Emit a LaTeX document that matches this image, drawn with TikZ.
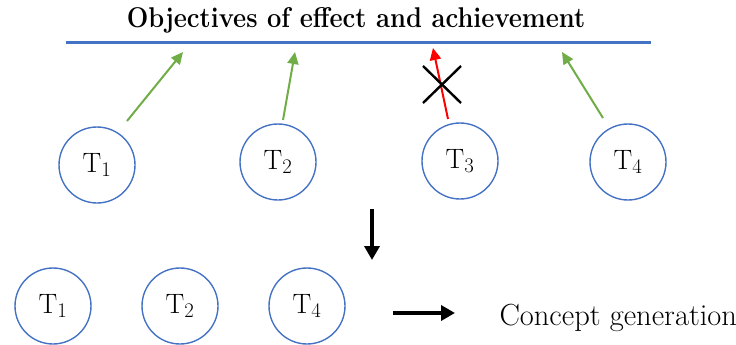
\documentclass[tikz,border=0pt]{standalone}
\usetikzlibrary{arrows.meta}
\definecolor{cblue}{HTML}{4472C4}
\definecolor{cgreen}{HTML}{70AD47}
\begin{document}
\begin{tikzpicture}[x=1pt,y=-1pt,
  tcirc/.style={circle,draw=cblue,line width=1.4pt,minimum size=76pt,inner sep=0pt,font=\fontsize{28}{32}\selectfont},
  garrow/.style={cgreen,line width=2pt,-{Triangle[length=12pt,width=11pt]}},
  rarrow/.style={red,line width=2pt,-{Triangle[length=12pt,width=11pt]}},
  barrow/.style={black,line width=4pt,-{Triangle[length=14pt,width=15pt]}},
  crossline/.style={black,line width=2.4pt}]
\useasboundingbox (0,0) rectangle (736,345);
\node[font=\fontsize{25.5}{30}\selectfont\bfseries,yscale=1.12] (title) at (356,20) {Objectives of effect and achievement};
\coordinate (lineL) at (66,43);
\coordinate (lineR) at (651,43);
\draw[cblue,line width=3pt] (lineL) -- (lineR);
% top circles
\node[tcirc] (a1) at (97,165) {T$_1$};
\node[tcirc] (a2) at (278,162) {T$_2$};
\node[tcirc] (a3) at (460,161) {T$_3$};
\node[tcirc] (a4) at (628,162) {T$_4$};
% arrows to objectives
\coordinate (s1) at (127,121); \coordinate (e1) at (183,52);
\coordinate (s2) at (283,120); \coordinate (e2) at (295,52);
\coordinate (s3) at (448,119); \coordinate (e3) at (433,48);
\coordinate (s4) at (603,118); \coordinate (e4) at (562,52);
\draw[garrow] (s1) -- (e1);
\draw[garrow] (s2) -- (e2);
\draw[rarrow] (s3) -- (e3);
\draw[garrow] (s4) -- (e4);
% cross
\coordinate (c1) at (423,66); \coordinate (c2) at (461,103);
\coordinate (c3) at (461,66); \coordinate (c4) at (423,103);
\draw[crossline] (c1) -- (c2);
\draw[crossline] (c3) -- (c4);
% down arrow
\coordinate (d1) at (372,209); \coordinate (d2) at (372,260);
\draw[barrow] (d1) -- (d2);
% bottom circles
\node[tcirc] (b1) at (53,306) {T$_1$};
\node[tcirc] (b2) at (180,306) {T$_2$};
\node[tcirc] (b4) at (307,306) {T$_4$};
% right arrow
\coordinate (r1) at (393,313); \coordinate (r2) at (455,313);
\draw[barrow] (r1) -- (r2);
\node[font=\fontsize{30.5}{34}\selectfont,anchor=west] (concept) at (496,318) {Concept generation};
\end{tikzpicture}
\end{document}
